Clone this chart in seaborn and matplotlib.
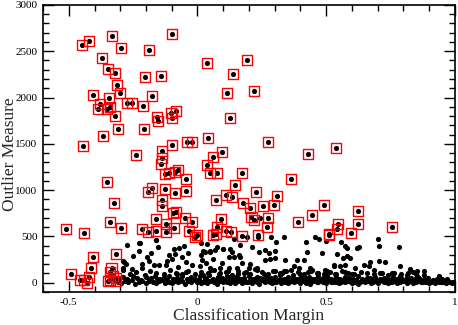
import matplotlib
matplotlib.use('Agg')
import matplotlib.pyplot as plt
import numpy as np
import pandas as pd
import seaborn as sns
from matplotlib.ticker import MultipleLocator, FuncFormatter

# flagged outliers (drawn with a red box)
outlier_margin = [
    -0.448, -0.422, -0.333, -0.100, -0.298, -0.189, -0.372, -0.348, -0.321, -0.205,
    -0.140, 0.038, 0.139, -0.312, -0.302, -0.405, -0.344, -0.176, 0.115, -0.272,
    -0.256, -0.212, -0.379, -0.387, -0.341, -0.351, -0.322, -0.158, -0.155, -0.101,
    -0.100, -0.084, 0.125, -0.307, -0.209, -0.368, 0.041, -0.445, -0.098, -0.039,
    -0.021, -0.139, 0.094, 0.192, 0.219, 0.273, 0.537, -0.240, -0.139, -0.143,
    0.059, 0.036, -0.127, -0.111, -0.088, -0.074, 0.049, 0.075, -0.044, -0.353,
    0.145, -0.177, -0.194, -0.127, -0.089, -0.045, 0.111, 0.133, 0.071, -0.139,
    -0.139, -0.325, -0.094, -0.085, -0.049, -0.162, -0.022, 0.090, -0.339, -0.298,
    -0.216, -0.509, -0.440, -0.193, -0.162, -0.123, -0.122, -0.092, -0.034, -0.001,
    -0.009, 0.077, 0.071, 0.059, 0.110, 0.129, -0.407, -0.317, -0.415, -0.334,
    -0.490, -0.458, -0.439, -0.421, -0.428, -0.338, -0.338, -0.348, -0.318, -0.318,
    -0.327, 0.428, 0.172, 0.364, 0.226, 0.309, 0.176, 0.203, 0.255, 0.296,
    0.490, 0.623, 0.210, 0.219, 0.273, 0.390, 0.444, 0.548, 0.623, 0.755,
    0.541, 0.597, 0.510, 0.511, 0.271, 0.172, 0.234,
]
outlier_measure = [
    2566, 2605, 2663, 2681, 2530, 2508, 2422, 2304, 2260, 2221,
    2235, 2375, 2250, 2131, 2045, 2027, 1998, 2019, 2048, 1937,
    1937, 1905, 1926, 1876, 1901, 1872, 1800, 1793, 1750, 1829,
    1775, 1851, 1779, 1657, 1657, 1581, 1560, 1474, 1488, 1523,
    1517, 1427, 1415, 2401, 2070, 1523, 1452, 1380, 1351, 1280,
    1355, 1272, 1178, 1183, 1197, 1215, 1183, 1183, 1118, 1089,
    1057, 1028, 984, 1010, 973, 992, 945, 924, 895, 895,
    830, 862, 758, 769, 697, 687, 654, 687, 658, 590,
    585, 585, 536, 547, 561, 550, 636, 593, 564, 517,
    499, 600, 531, 517, 561, 550, 273, 309, 162, 154,
    94, 29, 29, 61, -8, 115, 32, 22, 51, 14,
    68, 1391, 1183, 1124, 978, 941, 859, 805, 833, 841,
    838, 773, 708, 676, 697, 661, 730, 636, 639, 600,
    585, 539, 531, 514, 600, 510, 517,
]

# dense band near zero
band_margin = [
    -0.31, -0.296, -0.281, -0.268, -0.255, -0.241, -0.228, -0.214, -0.2, -0.188,
    -0.174, -0.162, -0.15, -0.136, -0.125, -0.111, -0.1, -0.086, -0.075, -0.061,
    -0.05, -0.036, -0.025, -0.011, 0.0, 0.014, 0.025, 0.039, 0.05, 0.064,
    0.075, 0.089, 0.1, 0.113, 0.125, 0.139, 0.15, 0.164, 0.175, 0.189,
    0.2, 0.213, 0.225, 0.239, 0.25, 0.264, 0.275, 0.289, 0.3, 0.313,
    0.325, 0.339, 0.35, 0.364, 0.375, 0.389, 0.4, 0.413, 0.425, 0.439,
    0.45, 0.464, 0.475, 0.489, 0.5, 0.513, 0.525, 0.539, 0.55, 0.564,
    0.575, 0.589, 0.6, 0.613, 0.625, 0.639, 0.65, 0.664, 0.675, 0.689,
    0.7, 0.713, 0.725, 0.739, 0.75, 0.764, 0.775, 0.789, 0.8, 0.813,
    0.825, 0.839, 0.85, 0.864, 0.875, 0.889, 0.9, 0.913, 0.925, 0.939,
    0.95, 0.964, 0.975, 0.988, 0.998,
]
band_measure = [
    12, -5, 20, 3, 25, -10, 8, 18, 0, 22, 5, -8, 15, 28, 2, 10, -3, 24, 6, 14,
    -12, 19, 4, 27, 9, -6, 16, 1, 23, 11, -9, 21, 7, 13, -2, 26, 3, 17, -7, 10,
    22, 0, 14, -11, 25, 5, 18, -4, 9, 20, 2, 12, -8, 24, 6, 15, -1, 21, 8, -10,
    17, 3, 26, 11, -5, 19, 4, 13, -3, 23, 7, 16, 0, 10, -9, 22, 5, 14, -6, 18,
    2, 25, 9, -2, 12, 20, -8, 6, 15, 1, 19, -4, 11, 24, 3, 8, -7, 16, 0, 13,
    5, -3, 10, 2, 6,
]

# second row of the band, between the ticks of the first
band2_margin = [
    0.007, 0.02, 0.032, 0.045, 0.057, 0.07, 0.082, 0.095, 0.107, 0.12,
    0.132, 0.145, 0.157, 0.17, 0.182, 0.195, 0.207, 0.22, 0.232, 0.245,
    0.257, 0.27, 0.282, 0.295, 0.307, 0.32, 0.332, 0.345, 0.357, 0.37,
    0.382, 0.395, 0.407, 0.42, 0.432, 0.445, 0.457, 0.47, 0.482, 0.495,
    0.507, 0.52, 0.532, 0.545, 0.557, 0.57, 0.582, 0.595, 0.607, 0.62,
    0.632, 0.645, 0.657, 0.67, 0.682, 0.695, 0.707, 0.72, 0.732, 0.745,
    0.757, 0.77, 0.782, 0.795, 0.807, 0.82, 0.832, 0.845, 0.857, 0.87,
    0.882, 0.895, 0.907, 0.92, 0.932, 0.945, 0.957, 0.97, 0.982, 0.994,
]
band2_measure = [
    30, 8, 42, 18, 35, 5, 26, 48, 14, 38, 22, 2, 44, 16, 32, 10, 40, 24, 6, 36,
    20, 46, 12, 28, 4, 38, 18, 42, 8, 30, 14, 44, 24, 2, 34, 20, 40, 10, 28, 16,
    36, 6, 26, 42, 12, 32, 18, 4, 30, 22, 10, 34, 16, 26, 6, 30, 14, 22, 4, 28,
    12, 24, 8, 18, 30, 6, 20, 12, 26, 4, 16, 22, 8, 14, 20, 4, 12, 18, 6, 10,
]

# second layer of the band
layer_margin = [
    -0.305, -0.29, -0.272, -0.25, -0.235, -0.22, -0.2, -0.182, -0.165, -0.145,
    -0.13, -0.11, -0.095, -0.078, -0.06, -0.04, -0.025, -0.008, 0.01, 0.028,
    0.045, 0.06, 0.08, 0.095, 0.115, 0.13, 0.148, 0.165, 0.18, 0.2,
    0.218, 0.232, 0.25, 0.268, 0.285, 0.3, 0.32, 0.335, 0.352, 0.37,
    0.385, 0.402, 0.42, 0.435, 0.455, 0.47, 0.488, 0.505, 0.52, 0.54,
    0.555, 0.572, 0.59, 0.605, 0.622, 0.64, 0.658, 0.672, 0.69, 0.708,
    0.725, 0.742, 0.76, 0.775, 0.792, 0.81, 0.828, 0.845, 0.862, 0.88,
    0.895, 0.915, 0.93, 0.95, 0.968,
]
layer_measure = [
    45, 60, 38, 72, 50, 35, 65, 48, 78, 40, 58, 70, 36, 55, 75, 44, 62, 38, 68, 52,
    80, 42, 60, 35, 74, 50, 66, 40, 56, 78, 45, 62, 37, 70, 48, 58, 82, 40, 65, 52,
    36, 72, 46, 60, 40, 68, 54, 76, 42, 58, 38, 64, 50, 44, 70, 36, 56, 48, 62, 40,
    52, 45, 58, 38, 50, 42, 55, 36, 46, 40, 50, 35, 44, 38, 42,
]

# extra row filling the band between the two layers
fill_margin = [
    -0.19, -0.157, -0.118, -0.068, -0.03, 0.005, 0.034, 0.07, 0.107, 0.142,
    0.172, 0.207, 0.243, 0.28, 0.317, 0.343, 0.38, 0.41, 0.447, 0.482,
    0.518, 0.548, 0.583, 0.617, 0.647, 0.682, 0.718, 0.747, 0.783, 0.818,
    0.856, 0.893, 0.935, 0.972,
    -0.08, -0.045, 0.02, 0.052, 0.088, 0.118, 0.158, 0.19, 0.222, 0.258,
    0.292, 0.33, 0.362, 0.398, 0.43, 0.468, 0.505, 0.54, 0.575, 0.6,
]
fill_measure = [
    30, 42, 28, 35, 48, 30, 40, 26, 44, 32,
    38, 28, 46, 34, 30, 42, 27, 36, 45, 30,
    34, 28, 40, 32, 26, 38, 30, 28, 33, 25,
    30, 24, 28, 22,
    95, 120, 88, 140, 102, 130, 92, 115, 145, 98,
    126, 108, 138, 94, 118, 100, 132, 90, 112, 96,
]

# sparser points above the band
upper_margin = [
    -0.29, -0.262, -0.24, -0.205, -0.185, -0.16, -0.13, -0.105, -0.085, -0.06,
    -0.035, -0.01, 0.015, 0.04, 0.063, 0.085, 0.11, 0.135, 0.158, 0.18,
    0.205, 0.23, 0.25, 0.275, 0.3, 0.322, 0.345, 0.37, 0.392, 0.415,
    0.44, 0.465, 0.49, 0.515, 0.535, 0.56, 0.585, 0.61, 0.635, 0.66,
    0.685, 0.71, 0.74, 0.765, 0.79, 0.82, 0.85, 0.88,
    -0.275, -0.225, -0.16, -0.154, -0.229, -0.195, -0.188, -0.29, -0.278, -0.289,
    -0.256, -0.214, -0.168, -0.149, -0.123, -0.09, -0.07, -0.054, -0.087, -0.098,
    -0.059, -0.035, -0.043, 0.014, 0.039, 0.047, 0.031, 0.012, 0.018, 0.008,
    0.035, 0.047, 0.059, -0.228, -0.163, -0.286, -0.25, -0.18, -0.12, -0.11,
    -0.215, -0.075, -0.02, 0.142, 0.193, 0.167, 0.212, 0.287, 0.307, 0.335,
    0.422, 0.458, 0.471, 0.501, 0.076, 0.098, 0.128, 0.135, 0.163, 0.167,
    0.122, 0.141, 0.238, 0.264, 0.300, 0.277, 0.174, 0.206, 0.264, 0.281,
    0.303, 0.342, 0.387, 0.413, 0.426, 0.484, 0.374, 0.393, 0.436, 0.445,
    0.497, 0.529, 0.096, 0.089, 0.122, 0.154, 0.199, 0.232, 0.335, 0.558,
    0.575, 0.581, 0.620, 0.627, 0.700, 0.707, 0.782, 0.543, 0.566, 0.581,
    0.591, 0.672, 0.707, 0.730, 0.788, 0.825, 0.838, 0.855, 0.882, 0.529,
    0.555, 0.575, 0.614, 0.646, 0.665, 0.685, 0.717, 0.756, 0.788, 0.814,
    0.855, 0.937, 0.022, 0.050, 0.070, 0.100, 0.236, 0.242,
]
upper_measure = [
    140, 95, 120, 88, 130, 105, 92, 140, 110, 98,
    125, 90, 115, 100, 135, 92, 118, 85, 128, 104,
    96, 138, 112, 90, 122, 100, 132, 88, 114, 96,
    126, 108, 90, 120, 98, 130, 104, 92, 116, 100,
    94, 110, 88, 104, 92, 100, 90, 86,
    406, 431, 460, 385, 338, 273, 230, 230, 205, 158,
    151, 158, 187, 187, 187, 363, 374, 399, 309, 255,
    273, 316, 226, 434, 417, 337, 327, 302, 248, 176,
    212, 158, 255, 428, 463, 219, 290, 320, 240, 300,
    200, 165, 195, 474, 489, 410, 391, 489, 445, 493,
    445, 489, 471, 453, 385, 363, 363, 337, 302, 277,
    273, 277, 337, 356, 348, 320, 212, 205, 248, 255,
    266, 248, 248, 248, 337, 320, 176, 158, 158, 140,
    140, 176, 212, 158, 158, 158, 158, 158, 122, 439,
    399, 374, 374, 385, 474, 399, 385, 313, 266, 284,
    266, 223, 230, 223, 176, 151, 115, 122, 122, 194,
    176, 194, 158, 194, 176, 140, 104, 104, 68, 86,
    68, 68, 345, 348, 356, 367, 489, 704,
]

cloud = pd.DataFrame({
    "margin": band_margin + band2_margin + layer_margin + fill_margin + upper_margin,
    "measure": band_measure + band2_measure + layer_measure + fill_measure + upper_measure,
})
outliers = pd.DataFrame({"margin": outlier_margin, "measure": outlier_measure})

sns.set_style("ticks")
plt.rcParams["font.family"] = ["Liberation Serif", "DejaVu Serif"]

fig = plt.figure(figsize=(4.58, 3.25), dpi=100)
ax = fig.add_axes([0.094, 0.1015, 0.899, 0.8835])

sns.scatterplot(data=cloud, x="margin", y="measure", ax=ax, color="black",
                marker="o", s=14, linewidth=0)
sns.scatterplot(data=outliers, x="margin", y="measure", ax=ax, color="black",
                marker="o", s=14, linewidth=0)
sns.scatterplot(data=outliers, x="margin", y="measure", ax=ax, color="red",
                marker="s", s=52, linewidth=1.0)
box = ax.collections[-1]
box.set_facecolor("none")
box.set_edgecolor("red")

ax.set_xlim(-0.6, 1.0)
ax.set_ylim(-100, 3000)
ax.xaxis.set_major_locator(MultipleLocator(0.5))
ax.xaxis.set_minor_locator(MultipleLocator(0.1))
ax.yaxis.set_major_locator(MultipleLocator(500))
ax.yaxis.set_minor_locator(MultipleLocator(100))
ax.xaxis.set_major_formatter(FuncFormatter(lambda v, p: ("%g" % v).replace("\u2212", "-")))
ax.yaxis.set_major_formatter(FuncFormatter(lambda v, p: "%d" % v))

ax.tick_params(which="both", direction="in", top=True, right=True, width=1.0,
               labelsize=8, colors="black")
ax.tick_params(which="major", length=8, pad=4)
ax.tick_params(which="minor", length=4)
for sp in ax.spines.values():
    sp.set_linewidth(1.2)
    sp.set_color("black")

ax.set_xlabel("Classification Margin", fontsize=12.5, labelpad=1)
ax.set_ylabel("Outlier Measure", fontsize=12.5)
ax.yaxis.set_label_coords(-0.062, 0.48)

fig.savefig("out.png", dpi=100)
